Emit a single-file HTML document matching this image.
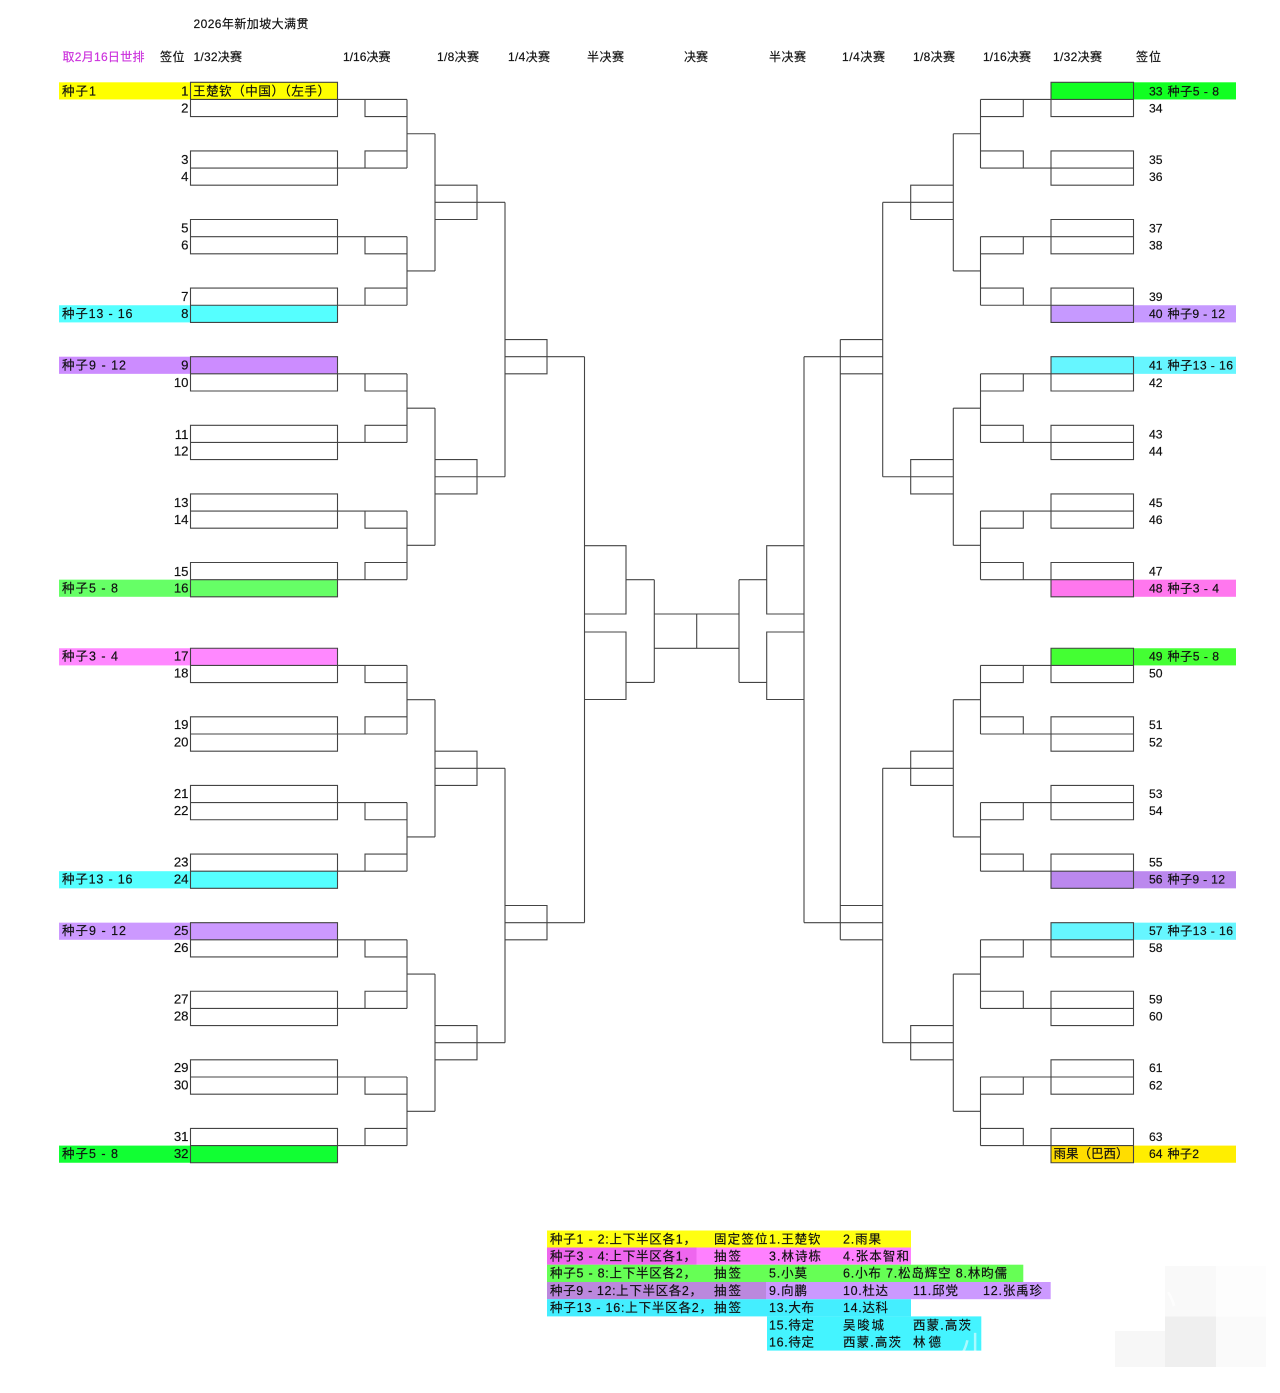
<!DOCTYPE html>
<html lang="zh">
<head>
<meta charset="utf-8">
<title>2026年新加坡大满贯</title>
<style>
html,body{margin:0;padding:0;background:#fff;width:1280px;height:1393px;overflow:hidden}
svg{display:block;filter:blur(0.3px)}
text{font-family:"Liberation Sans","Noto Sans CJK SC",sans-serif;fill:#111;stroke:#111;stroke-width:.18px;font-size:12.5px}
.n{font-size:13.2px;text-anchor:end}
.r{font-size:12.2px}
.h{font-size:12px}
</style>
</head>
<body>
<svg xmlns="http://www.w3.org/2000/svg" width="1280" height="1393" viewBox="0 0 1280 1393">
<defs>
<path id="ql" fill="none" stroke="#444" stroke-width="1.1" d="M190.5 0H337.5V34.3H190.5Z M190.5 17.15H407 M365 17.15V34.3H407
M190.5 68.6H337.5V102.9H190.5Z M190.5 85.75H407 M365 85.75V68.6H407
M407 17.15V85.75 M407 51.45H435
M190.5 137.2H337.5V171.5H190.5Z M190.5 154.35H407 M365 154.35V171.5H407
M190.5 205.8H337.5V240.1H190.5Z M190.5 222.95H407 M365 222.95V205.8H407
M407 154.35V222.95 M407 188.65H435
M435 51.45V188.65 M435 102.9H477V137.2H435 M435 120.05H505"/>
<path id="qr" fill="none" stroke="#444" stroke-width="1.1" d="M1133.5 0H1051V34.3H1133.5Z M1133.5 17.15H980.5 M1023.3 17.15V34.3H980.5
M1133.5 68.6H1051V102.9H1133.5Z M1133.5 85.75H980.5 M1023.3 85.75V68.6H980.5
M980.5 17.15V85.75 M980.5 51.45H953.3
M1133.5 137.2H1051V171.5H1133.5Z M1133.5 154.35H980.5 M1023.3 154.35V171.5H980.5
M1133.5 205.8H1051V240.1H1133.5Z M1133.5 222.95H980.5 M1023.3 222.95V205.8H980.5
M980.5 154.35V222.95 M980.5 188.65H953.3
M953.3 51.45V188.65 M953.3 102.9H910.7V137.2H953.3 M953.3 120.05H882.7"/>
</defs>

<!-- watermark squares -->
<rect x="1115" y="1331" width="50" height="36" fill="#f7f7f7"/>
<rect x="1165" y="1316.5" width="51" height="50.5" fill="#efefef"/>
<rect x="1216" y="1316.5" width="50" height="50.5" fill="#fafafa"/>
<rect x="1165" y="1266" width="51" height="50.5" fill="#f9f9f9"/>
<rect x="1216" y="1266" width="50" height="50.5" fill="#fdfdfd"/>

<!-- seed fills left -->
<rect x="59" y="82.3" width="278.5" height="17.15" fill="#ffff00"/>
<rect x="59" y="305.25" width="278.5" height="17.15" fill="#55ffff"/>
<rect x="59" y="356.7" width="278.5" height="17.15" fill="#cc8cff"/>
<rect x="59" y="579.65" width="278.5" height="17.15" fill="#66ff66"/>
<rect x="59" y="648.25" width="278.5" height="17.15" fill="#ff88ff"/>
<rect x="59" y="871.2" width="278.5" height="17.15" fill="#55ffff"/>
<rect x="59" y="922.65" width="278.5" height="17.15" fill="#cc99ff"/>
<rect x="59" y="1145.6" width="278.5" height="17.15" fill="#11ff33"/>

<!-- seed fills right -->
<rect x="1051" y="82.3" width="185" height="17.15" fill="#11ff22"/>
<rect x="1051" y="305.25" width="185" height="17.15" fill="#c699ff"/>
<rect x="1051" y="356.7" width="185" height="17.15" fill="#66f6ff"/>
<rect x="1051" y="579.65" width="185" height="17.15" fill="#ff77ee"/>
<rect x="1051" y="648.25" width="185" height="17.15" fill="#44ff33"/>
<rect x="1051" y="871.2" width="185" height="17.15" fill="#bb88ee"/>
<rect x="1051" y="922.65" width="185" height="17.15" fill="#66f6ff"/>
<rect x="1133.5" y="1145.6" width="102.5" height="17.15" fill="#ffee00"/>
<rect x="1051" y="1145.6" width="82.5" height="17.15" fill="#ffdd00"/>

<!-- brackets -->
<use href="#ql" transform="translate(0 82.3)"/>
<use href="#ql" transform="translate(0 356.7)"/>
<use href="#ql" transform="translate(0 648.25)"/>
<use href="#ql" transform="translate(0 922.65)"/>
<use href="#qr" transform="translate(0 82.3)"/>
<use href="#qr" transform="translate(0 356.7)"/>
<use href="#qr" transform="translate(0 648.25)"/>
<use href="#qr" transform="translate(0 922.65)"/>
<path fill="none" stroke="#444" stroke-width="1.1" d="M505 202.35V476.75 M505 339.55H547V373.85H505 M505 356.7H584.5
M505 768.3V1042.7 M505 905.5H547V939.8H505 M505 922.65H584.5
M584.5 356.7V922.65
M584.5 545.7H626V614H584.5 M584.5 632H626V699.5H584.5
M626 579.7H654.3 M626 682.4H654.3 M654.3 579.7V682.4
M654.3 614H739 M654.3 648.3H739 M696.7 614V648.3
M739 579.7V682.4 M739 579.7H766.7 M739 682.4H766.7
M804 545.7H766.7V614H804 M804 632H766.7V699.5H804
M804 356.7V922.65
M882.7 202.35V476.75 M882.7 339.55H840.3 M882.7 356.7H804 M882.7 373.85H840.3
M882.7 768.3V1042.7 M882.7 905.5H840.3 M882.7 922.65H804 M882.7 939.8H840.3
M840.3 339.55V939.8"/>

<!-- headers -->
<text class="h" x="193.5" y="28" textLength="115">2026年新加坡大满贯</text>
<text class="h" x="62.5" y="61" textLength="82" style="fill:#cc33dd;stroke:#cc33dd">取2月16日世排</text>
<text class="h" x="160" y="61" textLength="24.5">签位</text>
<text class="h" x="193.5" y="61" textLength="48.5">1/32决赛</text>
<text class="h" x="343" y="61" textLength="47.5">1/16决赛</text>
<text class="h" x="437" y="61" textLength="42">1/8决赛</text>
<text class="h" x="508" y="61" textLength="42">1/4决赛</text>
<text class="h" x="587" y="61" textLength="37">半决赛</text>
<text class="h" x="684" y="61" textLength="24">决赛</text>
<text class="h" x="769" y="61" textLength="37">半决赛</text>
<text class="h" x="842" y="61" textLength="43">1/4决赛</text>
<text class="h" x="913" y="61" textLength="42">1/8决赛</text>
<text class="h" x="983" y="61" textLength="48">1/16决赛</text>
<text class="h" x="1053" y="61" textLength="49">1/32决赛</text>
<text class="h" x="1136" y="61" textLength="25">签位</text>

<!-- left seed labels -->
<text x="62" y="95.3" textLength="34">种子1</text>
<text x="62" y="318.2" textLength="70.5">种子13 - 16</text>
<text x="62" y="369.7" textLength="64">种子9 - 12</text>
<text x="62" y="592.7" textLength="56">种子5 - 8</text>
<text x="62" y="660.6" textLength="56">种子3 - 4</text>
<text x="62" y="883.5" textLength="70.5">种子13 - 16</text>
<text x="62" y="935" textLength="64">种子9 - 12</text>
<text x="62" y="1158" textLength="56">种子5 - 8</text>

<!-- left numbers -->
<text class="n" x="188.5" y="95.3">1</text>
<text class="n" x="188.5" y="112.5">2</text>
<text class="n" x="188.5" y="163.9">3</text>
<text class="n" x="188.5" y="181">4</text>
<text class="n" x="188.5" y="232.5">5</text>
<text class="n" x="188.5" y="249.6">6</text>
<text class="n" x="188.5" y="301.1">7</text>
<text class="n" x="188.5" y="318.2">8</text>
<text class="n" x="188.5" y="369.7">9</text>
<text class="n" x="188.5" y="386.9">10</text>
<text class="n" x="188.5" y="438.8">11</text>
<text class="n" x="188.5" y="455.5">12</text>
<text class="n" x="188.5" y="506.9">13</text>
<text class="n" x="188.5" y="524">14</text>
<text class="n" x="188.5" y="576">15</text>
<text class="n" x="188.5" y="592.7">16</text>
<text class="n" x="188.5" y="660.6">17</text>
<text class="n" x="188.5" y="677.7">18</text>
<text class="n" x="188.5" y="729.2">19</text>
<text class="n" x="188.5" y="746.3">20</text>
<text class="n" x="188.5" y="797.8">21</text>
<text class="n" x="188.5" y="814.9">22</text>
<text class="n" x="188.5" y="866.3">23</text>
<text class="n" x="188.5" y="883.5">24</text>
<text class="n" x="188.5" y="935">25</text>
<text class="n" x="188.5" y="952.1">26</text>
<text class="n" x="188.5" y="1003.6">27</text>
<text class="n" x="188.5" y="1020.7">28</text>
<text class="n" x="188.5" y="1072.2">29</text>
<text class="n" x="188.5" y="1089.3">30</text>
<text class="n" x="188.5" y="1140.8">31</text>
<text class="n" x="188.5" y="1158">32</text>

<!-- player names -->
<text x="193" y="95.3" textLength="137">王楚钦（中国）（左手）</text>
<text x="1053.5" y="1158" textLength="75">雨果（巴西）</text>

<!-- right numbers -->
<text class="r" x="1149" y="95.3">33</text>
<text class="r" x="1149" y="112.5">34</text>
<text class="r" x="1149" y="163.9">35</text>
<text class="r" x="1149" y="181">36</text>
<text class="r" x="1149" y="232.5">37</text>
<text class="r" x="1149" y="249.6">38</text>
<text class="r" x="1149" y="301.1">39</text>
<text class="r" x="1149" y="318.2">40</text>
<text class="r" x="1149" y="369.7">41</text>
<text class="r" x="1149" y="386.9">42</text>
<text class="r" x="1149" y="438.3">43</text>
<text class="r" x="1149" y="455.5">44</text>
<text class="r" x="1149" y="506.9">45</text>
<text class="r" x="1149" y="524">46</text>
<text class="r" x="1149" y="575.5">47</text>
<text class="r" x="1149" y="592.7">48</text>
<text class="r" x="1149" y="660.6">49</text>
<text class="r" x="1149" y="677.7">50</text>
<text class="r" x="1149" y="729.2">51</text>
<text class="r" x="1149" y="746.3">52</text>
<text class="r" x="1149" y="797.8">53</text>
<text class="r" x="1149" y="814.9">54</text>
<text class="r" x="1149" y="866.3">55</text>
<text class="r" x="1149" y="883.5">56</text>
<text class="r" x="1149" y="935">57</text>
<text class="r" x="1149" y="952.1">58</text>
<text class="r" x="1149" y="1003.6">59</text>
<text class="r" x="1149" y="1020.7">60</text>
<text class="r" x="1149" y="1072.2">61</text>
<text class="r" x="1149" y="1089.3">62</text>
<text class="r" x="1149" y="1140.8">63</text>
<text class="r" x="1149" y="1158">64</text>

<!-- right seed labels -->
<text class="r" x="1167.5" y="95.3" textLength="51.5">种子5 - 8</text>
<text class="r" x="1167.5" y="318.2" textLength="57.5">种子9 - 12</text>
<text class="r" x="1167.5" y="369.7" textLength="65.5">种子13 - 16</text>
<text class="r" x="1167.5" y="592.7" textLength="51.5">种子3 - 4</text>
<text class="r" x="1167.5" y="660.6" textLength="51.5">种子5 - 8</text>
<text class="r" x="1167.5" y="883.5" textLength="57.5">种子9 - 12</text>
<text class="r" x="1167.5" y="935" textLength="65.5">种子13 - 16</text>
<text class="r" x="1167.5" y="1158" textLength="31.5">种子2</text>

<!-- legend -->
<rect x="547" y="1230.5" width="364" height="17" fill="#ffff11"/>
<rect x="547" y="1247.5" width="364" height="17.2" fill="#ff80ff"/>
<rect x="547" y="1247.5" width="149.5" height="17.2" fill="#ee66ee"/>
<rect x="547" y="1264.7" width="476.3" height="17.3" fill="#66ff55"/>
<rect x="547" y="1282" width="503.7" height="17.2" fill="#cc99ff"/>
<rect x="547" y="1282" width="219" height="17.2" fill="#bb88dd"/>
<rect x="547" y="1299.2" width="364" height="17.2" fill="#44eeff"/>
<rect x="767" y="1316.4" width="214.3" height="34.2" fill="#44f4ff"/>

<text x="550" y="1243.5" textLength="146">种子1 - 2:上下半区各1，</text>
<text x="714" y="1243.5" textLength="53.5">固定签位</text>
<text x="769" y="1243.5" textLength="51.5">1.王楚钦</text>
<text x="843" y="1243.5" textLength="38">2.雨果</text>

<text x="550" y="1260.5" textLength="146">种子3 - 4:上下半区各1，</text>
<text x="714" y="1260.5" textLength="27">抽签</text>
<text x="769" y="1260.5" textLength="52">3.林诗栋</text>
<text x="843" y="1260.5" textLength="66">4.张本智和</text>

<text x="550" y="1277.7" textLength="146">种子5 - 8:上下半区各2，</text>
<text x="714" y="1277.7" textLength="27">抽签</text>
<text x="769" y="1277.7" textLength="38">5.小莫</text>
<text x="843" y="1277.7" textLength="164">6.小布 7.松岛辉空 8.林昀儒</text>

<text x="550" y="1295.2" textLength="152">种子9 - 12:上下半区各2，</text>
<text x="714" y="1295.2" textLength="27">抽签</text>
<text x="769" y="1295.2" textLength="38">9.向鹏</text>
<text x="843" y="1295.2" textLength="45">10.杜达</text>
<text x="913" y="1295.2" textLength="45">11.邱党</text>
<text x="983" y="1295.2" textLength="59">12.张禹珍</text>

<text x="550" y="1312.2" textLength="162">种子13 - 16:上下半区各2，</text>
<text x="714" y="1312.2" textLength="27">抽签</text>
<text x="769" y="1312.2" textLength="45">13.大布</text>
<text x="843" y="1312.2" textLength="45">14.达科</text>

<text x="769" y="1329.5" textLength="45">15.待定</text>
<text x="843" y="1329.5" textLength="41">吴晙城</text>
<text x="913" y="1329.5" textLength="58">西蒙.高茨</text>

<text x="769" y="1346.5" textLength="45">16.待定</text>
<text x="843" y="1346.5" textLength="58">西蒙.高茨</text>
<text x="913" y="1346.5" textLength="28">林德</text>

<!-- faint watermark -->
<text x="960" y="1358" style="font-size:30px;fill:#ffffff;stroke:none;opacity:.55">小</text>
<text x="1146" y="1310" style="font-size:30px;fill:#ffffff;stroke:none;opacity:.8">小</text>
</svg>
</body>
</html>
